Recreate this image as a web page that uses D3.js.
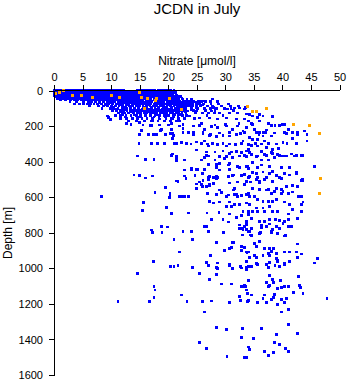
<!DOCTYPE html>
<html><head><meta charset="utf-8">
<script src="https://cdn.jsdelivr.net/npm/d3@7"></script>
<style>body{margin:0;background:#fff} text{font-family:"Liberation Sans",Arial,sans-serif;fill:#000}</style>
</head><body>
<svg id="c" width="348" height="384"></svg>
<script>
const title = "JCDN in July";
const xLabel = "Nitrate [\u03bcmol/l]";
const yLabel = "Depth [m]";
const xTicks = [0,5,10,15,20,25,30,35,40,45,50];
const yTicks = [0,200,400,600,800,1000,1200,1400,1600];

// dense near-surface samples: depth -> nitrate values
const surfaceDepths = [0,8,17,25,33,42,51,62,74,86,98,110,125,140,155,170,68,80,92,104,117,132,147];
const surfaceNitrate = [
 [0.1,0.6,1.0,1.5,1.9,2.4,2.8,3.3,3.7,4.2,4.6,5.1,5.5,6.0,6.4,6.9,7.3,7.8,8.2,8.7,9.1,9.6,10.0,10.5,10.9,11.4,11.8,12.2,14.6,15.0,15.5,15.9,16.4,16.8,17.3,17.7,18.2,18.6,19.1,19.5,20.0,20.4,21.0],
 [0.0,0.4,0.9,1.3,1.8,2.2,2.7,3.1,3.6,4.0,4.5,4.9,5.4,5.8,6.3,6.7,7.2,7.6,8.1,8.5,9.0,9.4,9.9,10.3,10.8,11.2,11.7,12.1,12.6,13.0,13.5,13.9,14.4,14.8,15.3,15.7,16.2,16.6,17.1,17.5,18.0,18.4,18.9,19.3,19.8,20.2,20.7,21.3],
 [0.2,0.6,1.1,1.5,2.0,2.4,2.9,3.3,3.8,4.2,4.7,5.1,5.6,6.0,6.5,6.9,7.4,7.8,8.3,8.7,9.2,9.6,10.1,10.5,11.0,11.4,11.9,12.3,12.8,13.2,13.7,14.1,14.6,15.0,15.5,15.9,16.4,16.8,17.3,17.7,18.2,18.6,19.1,19.5,20.0,20.5],
 [0.0,0.5,0.9,1.4,1.8,2.3,2.7,3.2,3.6,4.1,4.5,5.0,5.4,5.9,6.3,6.8,7.2,7.7,8.1,8.6,9.0,9.5,9.9,10.4,10.8,11.3,11.7,12.2,12.6,13.1,13.5,14.0,14.4,14.9,15.3,15.8,16.2,16.7,17.1,17.6,18.0,18.5,18.9,19.4,19.8,20.3,20.7,21.4],
 [0.3,0.7,1.2,1.6,2.1,2.5,3.0,3.4,3.9,4.3,4.8,5.2,5.7,6.1,6.6,7.0,7.5,7.9,8.4,8.8,9.3,9.7,10.2,10.6,11.1,11.5,12.0,12.4,12.9,13.3,13.8,14.2,14.7,15.1,15.6,16.0,16.5,16.9,17.4,17.8,18.3,18.7,19.2,19.6,20.1,20.5,21.0,21.6,22.2],
 [0.6,1.1,1.5,2.0,2.5,3.0,3.5,4.0,4.4,4.9,5.3,5.8,6.2,6.7,7.1,7.6,8.0,8.5,8.9,9.4,9.8,10.3,10.7,11.2,11.6,12.1,12.5,13.0,13.4,13.9,14.3,14.8,15.2,15.7,16.1,16.6,17.0,17.5,17.9,18.4,18.8,19.3,19.7,20.2,20.6,21.1,21.7,22.4],
 [1.2,2.0,2.9,3.6,4.2,4.8,5.3,5.9,6.4,6.9,7.5,8.0,8.4,8.9,9.5,10.0,10.4,10.9,11.4,11.9,12.4,12.8,13.3,13.8,14.2,14.7,15.2,15.6,16.1,16.6,17.0,17.5,18.0,18.5,18.9,19.4,19.9,20.4,20.8,21.3,21.9,22.6,23.3,24.1],
 [2.8,3.9,5.1,6.0,6.6,7.3,7.9,8.6,9.3,9.9,10.6,11.2,11.7,12.3,12.9,13.4,13.9,14.5,15.0,15.5,16.1,16.6,17.1,17.7,18.2,18.7,19.2,19.8,20.3,20.8,21.4,22.0,22.6,23.0,23.5,24.0,24.4,25.3,25.8,26.5,27.4,28.6],
 [3.6,4.5,5.2,5.8,6.4,7.0,7.6,8.3,9.0,9.6,10.3,10.9,11.5,12.0,12.6,13.1,13.7,14.2,14.8,15.3,15.9,16.4,17.0,17.5,18.1,18.6,19.2,19.7,20.3,20.8,21.4,21.8,22.1,22.5,22.9,23.3,23.8,24.3,24.9,25.5,26.2,27.5,28.8,30.5],
 [6.2,7.8,8.6,9.4,10.1,10.8,11.4,12.0,12.6,13.2,13.8,14.4,15.0,15.6,16.2,16.8,17.4,18.0,18.6,19.2,19.8,20.4,21.0,21.6,22.3,22.8,23.2,23.7,24.3,24.9,25.6,26.9,27.8,29.4,30.9,32.3],
 [8.4,9.8,10.5,11.2,11.9,12.7,13.4,14.1,14.9,15.6,16.3,17.0,17.7,18.4,19.1,19.8,20.5,21.2,21.6,22.0,22.5,23.0,24.1,25.2,26.3,27.4,28.5,29.8,31.0],
 [10.3,10.9,11.6,12.2,12.8,13.4,13.9,14.3,14.8,15.3,15.8,16.2,16.7,17.1,17.6,18.0,18.5,19.0,19.4,19.9,20.3,20.8,21.2,21.7,22.1,22.7,24.4,26.5,28.2,31.4],
 [11.3,11.9,12.4,13.1,13.9,14.6,15.2,15.8,16.3,16.9,17.4,18.0,18.6,19.2,19.7,20.3,20.8,21.4,21.9,22.4,23.1,24.8,27.0,28.1],
 [10.8,11.6,12.6,13.5,14.5,15.2,16.0,16.9,17.7,18.5,19.3,20.1,20.9,21.7,22.5,23.2,26.8,29.6],
 [11.7,12.7,13.8,14.6,15.4,16.3,17.2,18.4,19.6,20.6,21.8,22.8,24.6],
 [13.0,14.5,15.9,17.0,18.2,19.4,20.4,21.4],
 [8.0,10.0,12.2,13.5,14.6,15.7,16.9,18.0,19.0,20.1,21.1,22.3,23.6,25.0],
 [9.2,11.8,13.0,14.5,15.6,16.6,17.8,18.9,20.0,21.1,22.0,23.5,26.0],
 [10.2,12.3,13.5,14.7,16.0,17.1,18.2,19.4,20.6,21.8,23.0,25.0,28.0],
 [11.0,12.5,14.0,15.4,16.6,17.8,19.0,20.1,21.2,22.4,24.0],
 [11.8,13.5,15.0,16.5,17.9,19.2,20.5,21.6,23.0],
 [12.0,14.0,16.0,17.9,19.8,21.2,22.2],
 [12.5,15.0,17.5,19.5,21.0]
];

// remaining samples: [nitrate, depth]
const bluePoints = [
 [9.6,150],[9.9,160],[9.4,142],
 [12.7,183],[13.5,189],[15.0,177],[15.6,193],[16.9,197],[18.5,193],[20.0,193],[15.3,225],[18.7,225],[20.4,239],[15.0,245],[16.5,245],[17.4,245],[18.0,245],[19.5,245],[20.9,253],[14.9,296],[17.1,296],[18.1,296],[19.4,296],[21.4,296],[20.8,268],[14.6,367],[16.0,386],[17.5,386],[20.7,356],[21.4,375],[21.5,394],[14.0,474],[15.0,478],[16.0,491],[17.3,480],[19.5,544],[17.7,574],[20.3,583],[20.2,600],[21.9,597],[21.5,508],[8.3,597],[15.7,628],[15.5,672],[19.7,656],[20.6,690],
 [17.1,784],[17.3,797],[18.8,766],[18.9,797],[19.9,767],[21.0,837],[22.0,907],[17.4,961],[14.6,1028],[20.4,989],[21.0,989],[21.7,983],[17.5,1100],[17.7,1122],[17.5,1162],[16.7,1186],[11.2,1186],
 [21.7,510],[23.1,495],[25.0,525],[25.8,529],[27.2,529],[28.4,495],[30.8,519],[32.2,514],[33.4,529],[26.0,540],[22.3,594],[22.9,594],[24.9,552],[26.9,576],[28.4,585],[29.3,572],[30.2,594],[31.6,585],[32.2,594],[33.7,585],[27.3,623],[27.9,632],[29.0,626],[30.8,626],[32.5,638],[31.1,651],[30.2,651],[23.5,688],[26.8,688],[28.9,685],[30.7,694],[32.8,701],[27.6,726],[29.6,726],[30.5,739],[32.0,713],[33.7,735],[32.8,773],[33.7,783],[22.6,792],[24.1,792],[26.4,763],[26.8,763],[27.0,792],[29.7,796],[24.2,837],[28.4,852],[31.3,852],[31.1,882],[30.8,890],[29.9,901],[32.8,901],[33.4,882],[27.4,927],[34.0,908],[28.7,970],[26.7,965],[30.8,976],[27.0,983],[24.2,993],[28.4,994],[28.7,1002],[30.7,983],[31.2,1002],[32.8,998],[33.7,994],[33.7,961],[25.5,514],[27.0,501],[27.3,532],[31.6,552],[32.0,581],[32.8,589],[31.6,642],[33.7,632],[33.1,679],[34.0,698],[32.5,773],[33.1,783],[34.0,792],
 [33.7,510],[34.4,514],[35.4,501],[36.0,519],[36.9,501],[38.3,510],[39.8,495],[40.7,538],[41.7,532],[42.7,538],[43.4,506],[36.0,557],[37.5,557],[38.6,566],[39.8,557],[39.8,576],[41.0,576],[41.7,570],[42.8,594],[34.3,594],[35.1,594],[35.7,614],[36.6,623],[37.5,623],[38.3,623],[38.9,614],[40.3,626],[41.3,642],[43.3,638],[43.6,626],[34.3,642],[35.4,660],[36.6,660],[37.8,651],[38.3,679],[39.2,679],[41.8,670],[34.0,679],[34.8,679],[35.7,679],[36.9,679],[41.0,694],[43.3,679],[34.6,717],[36.0,735],[36.9,735],[37.8,726],[38.8,726],[39.5,732],[40.3,735],[41.0,726],[42.7,721],[33.7,754],[34.6,773],[36.3,769],[37.2,763],[38.3,783],[39.5,777],[41.6,763],[34.3,792],[36.2,796],[38.1,801],[40.5,814],[34.6,814],[36.0,848],[35.1,858],[42.7,863],[33.7,908],[35.4,876],[36.9,890],[37.8,890],[38.5,886],[38.1,904],[38.9,919],[40.4,908],[41.3,908],[42.4,908],[43.3,919],[42.7,938],[34.3,938],[35.4,938],[36.6,927],[37.8,927],[38.9,942],[39.2,961],[40.3,976],[41.3,961],[46.2,942],[45.6,970],[35.7,976],[34.6,989],[37.2,976],[37.5,994],[38.7,983],[39.5,989],[33.7,1008],
 [33.6,95],[34.3,132],[34.8,142],[36.0,132],[35.7,152],[36.6,142],[38.3,146],[34.0,170],[34.6,183],[36.0,170],[33.7,208],[35.1,217],[35.4,236],[36.0,236],[36.6,236],[37.2,221],[38.1,194],[38.7,194],[39.5,194],[40.4,189],[41.0,217],[40.4,236],[41.8,236],[42.7,245],[43.9,226],[44.3,245],[41.8,270],[40.1,292],[39.3,326],[44.3,283],[34.3,264],[34.8,273],[35.7,273],[36.6,255],[38.1,255],[36.9,283],[34.6,307],[35.7,311],[37.2,321],[38.3,330],[34.0,330],[34.6,358],[35.7,367],[36.9,358],[38.1,349],[39.2,358],[39.8,367],[40.7,367],[42.1,367],[43.4,363],[38.6,377],[37.5,390],[36.3,390],[34.8,405],[33.9,424],[35.7,433],[37.8,424],[39.8,433],[41.3,433],[45.6,428],[34.8,461],[36.6,457],[38.3,452],[38.9,476],[40.4,465],[42.4,465],[34.0,490],[35.7,490],[37.2,490],[43.6,503],
 [17.1,194],[18.8,217],[20.6,217],[22.0,198],[22.6,214],[24.4,198],[25.5,194],[26.4,217],[27.6,202],[28.7,208],[30.2,198],[31.3,217],[32.2,198],[33.1,226],[22.6,236],[24.4,245],[26.1,236],[27.3,251],[28.4,259],[29.6,251],[30.8,255],[32.0,245],[33.4,236],[22.3,292],[23.2,296],[24.9,288],[26.4,283],[27.0,311],[28.7,301],[30.2,311],[31.8,301],[33.1,283],[34.0,301],[24.9,333],[26.7,345],[28.2,345],[29.6,339],[31.1,345],[32.8,349],[33.7,339],[21.4,371],[22.9,390],[27.0,367],[29.0,371],[30.2,371],[31.3,377],[32.5,367],[33.7,371],[26.4,377],[27.0,414],[28.4,414],[29.0,408],[30.8,408],[32.2,424],[33.7,424],[22.9,446],[24.1,439],[25.2,442],[26.4,442],[28.4,433],[22.9,480],[24.7,476],[26.0,465],[27.0,490],[27.9,490],[28.7,490],[30.5,484],[31.3,476],[32.8,476],[34.0,490],
 [27.8,46],[26.4,57],[24.3,57],[25.5,69],[29.4,86],[30.4,103],[31.6,97],[32.5,97],[33.4,103],[22.6,97],[23.4,114],[25.0,114],[26.0,125],[27.6,114],[29.0,125],[30.8,125],[32.2,125],[33.7,131],[23.8,142],[25.5,153],[27.3,153],[28.7,159],[30.2,153],[32.0,159],[33.4,159],[19.8,142],[20.8,159],[22.0,170],[18.5,159],[17.3,170],
 [37.8,1038],[38.3,1062],[39.7,1066],[42.8,1043],[34.0,1070],[37.2,1081],[38.5,1081],[33.6,1100],[37.6,1100],[39.2,1113],[39.9,1107],[41.0,1104],[43.0,1094],[43.2,1107],[33.7,1122],[33.9,1141],[34.6,1150],[36.9,1150],[38.6,1145],[38.5,1163],[42.0,1137],[43.6,1141],[47.8,1169],[36.6,1169],[38.1,1175],[39.8,1175],[40.7,1169],[33.9,1188],[35.6,1194],[37.2,1192],[39.2,1201],[40.4,1194],[41.0,1231],[39.8,1245],[41.0,1314],[36.4,1338],[39.0,1370],[42.7,1366],[34.9,1394],[38.6,1417],[39.5,1427],[34.0,1442],[34.3,1455],[36.9,1466],[38.4,1473],[40.5,1451],[41.0,1466],[37.5,1488],[33.7,1501],
 [25.5,1028],[28.4,1032],[27.3,1062],[29.3,1088],[31.1,1088],[22.3,1150],[23.3,1188],[26.0,1188],[27.6,1183],[30.7,1194],[32.5,1160],[32.6,1179],[32.8,1104],[33.4,1094],[34.0,1179],[26.3,1245],[28.4,1332],[30.2,1344],[33.0,1338],[32.8,1389],[25.5,1417],[26.7,1451],[30.3,1494],[33.4,1501],
 [20.6,185],[22.6,190],[25.8,186],[28.2,192],[30.1,188],[32.4,186],[34.7,191],[37.6,186],[40.0,190],
 [20.7,240],[23.5,236],[26.1,242],[29.0,238],[30.8,234],[32.6,240],[35.9,244],[38.6,238],[40.7,242],[42.7,236],[24.5,233],[27.4,246],[37.0,236],
 [21.1,297],[24.0,299],[25.8,296],[26.9,300],[27.7,295],[29.6,297],[30.7,299],[32.9,296],[35.3,297],[36.4,299],[37.6,296],[39.0,299],[40.8,297],[42.4,295],
 [20.6,362],[21.5,390],[25.0,333],[25.8,390],[26.7,362],[28.2,390],[29.9,380],[30.8,352],[32.0,343],[33.4,362],[34.3,349],[35.4,371],[36.3,343],[37.2,362],[38.3,352],[39.5,362],[40.4,367],[41.6,356],[42.4,362],[43.5,362],
 [24.1,446],[24.9,442],[26.1,503],[27.3,484],[28.4,484],[29.0,446],[30.5,418],[30.8,442],[31.4,474],[32.5,431],[33.4,469],[34.0,437],[34.3,484],[35.4,465],[36.3,418],[37.8,465],[38.3,456],[39.5,487],[40.4,465],[41.3,474],[42.4,461],[43.5,499],
 [20.3,577],[21.7,512],[22.0,597],[23.5,593],[24.9,549],[26.7,540],[27.9,521],[29.0,559],[30.5,587],[31.4,559],[32.8,587],[34.0,577],[34.8,549],[36.0,512],[37.2,559],[38.1,577],[38.9,549],[40.1,568],[40.7,540],[42.7,536],[43.3,597],
 [32.5,756],[33.4,766],[34.6,775],[36.3,756],[37.8,750],[38.9,766],[40.1,747],[41.0,766],[41.6,762],[33.0,812],[34.4,812],[36.0,803],[38.1,794],[39.2,803],[40.4,818],[31.4,856],[32.8,878],[33.8,910],[35.1,925],[37.5,916],[38.9,916],[40.4,907],[42.4,907],[43.3,919],[32.6,987],[34.0,987],[35.4,972],[37.8,968],[39.2,953],[40.4,972],[41.3,963],[42.8,1047],[40.4,1104],[37.8,1094],[33.4,1104]
];

const orangePoints = [
 [0.35,18],[0.9,12],[1.6,1],[3.3,29],[4.9,24],[6.8,35],[10.1,24],[11.4,35],[14.9,7],[15.4,35],[16.4,41],[15.9,97],[17.7,52],[18.0,41],[20.3,41],[22.4,103],
 [33.9,91],[34.8,114],[35.5,114],[37.2,97],[42.0,187],[44.8,193],[46.5,238],[46.7,491],[46.5,576]
];

const svg = d3.select("#c");
const x = d3.scaleLinear().domain([0,50]).range([54,339.5]);
const y = d3.scaleLinear().domain([0,1600]).range([90.8,375]);

const blueAll = [];
surfaceDepths.forEach((d,i)=>surfaceNitrate[i].forEach(n=>blueAll.push([n,d])));
bluePoints.forEach(p=>blueAll.push(p));

const s = 2.8;
svg.append("g").attr("shape-rendering","crispEdges").selectAll("rect").data(blueAll).join("rect")
  .attr("x",d=>x(d[0])-s/2).attr("y",d=>y(d[1])-s/2)
  .attr("width",s).attr("height",s).attr("fill","#0000ff");
svg.append("g").attr("shape-rendering","crispEdges").selectAll("rect").data(orangePoints).join("rect")
  .attr("x",d=>x(d[0])-1.5).attr("y",d=>y(d[1])-1.5)
  .attr("width",3).attr("height",3).attr("fill","#ffa500");

const xAxis = svg.append("g").attr("transform","translate(0,90)")
  .call(d3.axisTop(x).tickValues(xTicks).tickSize(5).tickSizeOuter(0).tickPadding(4).tickFormat(d3.format("d")));
const yAxis = svg.append("g").attr("transform","translate(54,0)")
  .call(d3.axisLeft(y).tickValues(yTicks).tickSize(5).tickSizeOuter(0).tickPadding(6).tickFormat(d3.format("d")));
[xAxis,yAxis].forEach(g=>{
  g.selectAll("text").style("font-size","11px").style("font-family","'Liberation Sans',Arial,sans-serif").attr("fill","#000");
  g.selectAll("path,line").attr("stroke","#000").attr("shape-rendering","crispEdges");
});

svg.append("text").attr("x",197).attr("y",14).attr("text-anchor","middle")
  .style("font-size","15px").text(title);
svg.append("text").attr("x",197).attr("y",65).attr("text-anchor","middle")
  .style("font-size","12px").text(xLabel);
svg.append("text").attr("transform","translate(12,233) rotate(-90)").attr("text-anchor","middle")
  .style("font-size","12px").text(yLabel);
</script>
</body></html>
